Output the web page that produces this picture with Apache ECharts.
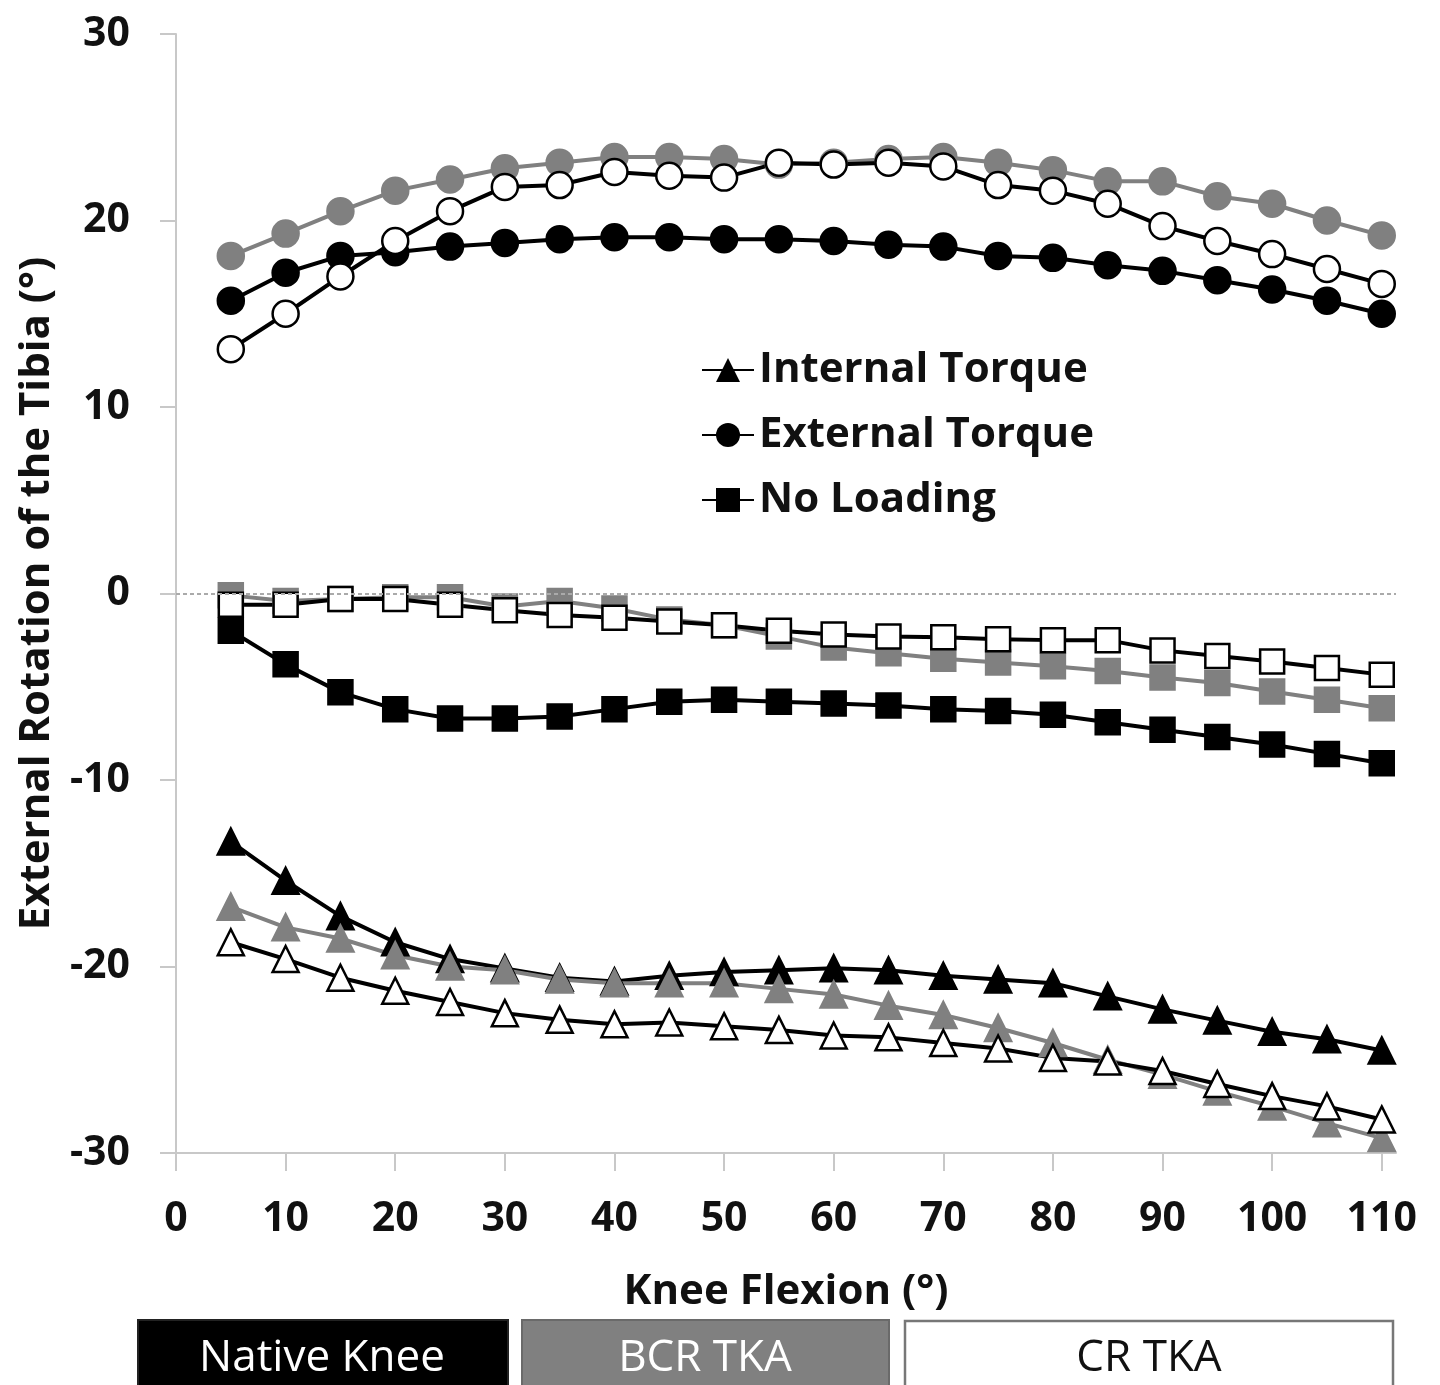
<!DOCTYPE html>
<html><head><meta charset="utf-8">
<script src="https://cdn.jsdelivr.net/npm/echarts@6/dist/echarts.min.js"></script>
<style>html,body{margin:0;padding:0;background:#fff}#c{width:1440px;height:1385px}</style>
</head><body><div id="c"></div>
<script>
const flexion = [5,10,15,20,25,30,35,40,45,50,55,60,65,70,75,80,85,90,95,100,105,110];
const xTickLabels = [0,10,20,30,40,50,60,70,80,90,100,110];
const yTickLabels = [-30,-20,-10,0,10,20,30];

const externalNative = [15.7,17.2,18.1,18.3,18.6,18.8,19.0,19.1,19.1,19.0,19.0,18.9,18.7,18.6,18.1,18.0,17.6,17.3,16.8,16.3,15.7,15.0];
const externalBCR    = [18.1,19.3,20.5,21.6,22.2,22.8,23.1,23.4,23.4,23.3,23.0,23.1,23.3,23.4,23.1,22.7,22.1,22.1,21.3,20.9,20.0,19.2];
const externalCR     = [13.1,15.0,17.0,18.9,20.5,21.8,21.9,22.6,22.4,22.3,23.1,23.0,23.1,22.9,21.9,21.6,20.9,19.7,18.9,18.2,17.4,16.6];

const noLoadNative = [-2.0,-3.8,-5.3,-6.2,-6.7,-6.7,-6.6,-6.2,-5.8,-5.7,-5.8,-5.9,-6.0,-6.2,-6.3,-6.5,-6.9,-7.3,-7.7,-8.1,-8.6,-9.1];
const noLoadBCR    = [-0.1,-0.4,-0.3,-0.2,-0.2,-0.7,-0.4,-0.8,-1.4,-1.7,-2.3,-2.9,-3.2,-3.5,-3.7,-3.9,-4.15,-4.5,-4.8,-5.25,-5.7,-6.15];
const noLoadCR     = [-0.6,-0.6,-0.3,-0.3,-0.6,-0.9,-1.15,-1.3,-1.5,-1.7,-2.0,-2.2,-2.3,-2.35,-2.45,-2.5,-2.5,-3.05,-3.35,-3.65,-4.0,-4.35];

const internalNative = [-13.3,-15.4,-17.3,-18.7,-19.6,-20.1,-20.6,-20.8,-20.5,-20.3,-20.2,-20.1,-20.2,-20.5,-20.7,-20.9,-21.6,-22.3,-22.9,-23.5,-23.9,-24.5];
const internalBCR    = [-16.8,-17.9,-18.5,-19.4,-20.0,-20.2,-20.7,-20.9,-20.9,-20.9,-21.2,-21.5,-22.1,-22.6,-23.3,-24.1,-25.0,-25.8,-26.7,-27.5,-28.4,-29.2];
const internalCR     = [-18.7,-19.6,-20.6,-21.3,-21.9,-22.5,-22.85,-23.1,-23.0,-23.2,-23.4,-23.7,-23.8,-24.1,-24.4,-24.9,-25.1,-25.6,-26.3,-26.95,-27.5,-28.2];

const legendNames = ['Internal Torque','External Torque','No Loading'];
const groupNames = ['Native Knee','BCR TKA','CR TKA'];

const FONT = '"Open Sans"';
const BLACK = '#000000', GREY = '#808080', WHITE = '#ffffff';

function pairs(vals){ return flexion.map((x,i)=>[x, vals[i]]); }

const styles = {
  native: {fill: BLACK, line: BLACK, border: BLACK},
  bcr:    {fill: GREY,  line: GREY,  border: GREY},
  cr:     {fill: WHITE, line: BLACK, border: BLACK}
};
function mk(name, vals, sym, st, size){
  return {
    name: name, type: 'line', data: pairs(vals), symbol: sym, symbolSize: size,
    lineStyle: {color: st.line, width: 4},
    itemStyle: {color: st.fill, borderColor: st.border, borderWidth: 2.5},
    showAllSymbol: true, animation: false, silent: true
  };
}
const groups = [
  ['native', externalNative, noLoadNative, internalNative],
  ['bcr', externalBCR, noLoadBCR, internalBCR],
  ['cr', externalCR, noLoadCR, internalCR]
];
const series = [];
groups.forEach(g=>{
  const st = styles[g[0]];
  series.push(mk(g[0]+'-ext', g[1], 'circle', st, 26));
  series.push(mk(g[0]+'-nol', g[2], 'rect', st, 24));
  series.push(mk(g[0]+'-int', g[3], 'triangle', st, 26));
});
series[0].markLine = {
  silent: true, symbol: 'none', label: {show: false}, animation: false,
  lineStyle: {color: '#aaaaaa', type: [4,3], width: 2},
  data: [{yAxis: 0}]
};
const legendSyms = ['triangle','circle','rect'];
legendNames.forEach((n,i)=>{
  series.push({name: n, type: 'line', data: [], symbol: legendSyms[i], symbolSize: 24,
    lineStyle: {color: BLACK, width: 3}, itemStyle: {color: BLACK}});
});

const chart = echarts.init(document.getElementById('c'), null, {renderer: 'canvas'});
chart.setOption({
  backgroundColor: '#ffffff',
  animation: false,
  grid: {left: 176, right: 44, top: 34, bottom: 232, containLabel: false},
  legend: {
    data: legendNames, orient: 'vertical', left: 696, top: 343,
    itemWidth: 52, itemHeight: 30, itemGap: 21, selectedMode: false,
    textStyle: {fontFamily: FONT, fontWeight: 'bold', fontSize: 42, color: '#111', lineHeight: 44}
  },
  xAxis: {
    type: 'value', min: 0, max: 111.3, interval: 10,
    name: 'Knee Flexion (°)', nameLocation: 'middle', nameGap: 118,
    nameTextStyle: {fontFamily: FONT, fontWeight: 'bold', fontSize: 42, color: '#111'},
    axisLine: {show: true, onZero: false, lineStyle: {color: '#c8c8c8', width: 2}},
    axisTick: {show: true, length: 18, customValues: xTickLabels, lineStyle: {color: '#c8c8c8', width: 2}},
    axisLabel: {customValues: xTickLabels, margin: 46, fontFamily: FONT, fontWeight: 'bold', fontSize: 41, color: '#111'},
    splitLine: {show: false}
  },
  yAxis: {
    type: 'value', min: -30, max: 30, interval: 10,
    name: 'External Rotation of the Tibia (°)', nameLocation: 'middle', nameGap: 118, nameRotate: 90,
    nameTextStyle: {fontFamily: FONT, fontWeight: 'bold', fontSize: 42, color: '#111'},
    axisLine: {show: true, lineStyle: {color: '#c8c8c8', width: 2}},
    axisTick: {show: true, length: 16, customValues: yTickLabels, lineStyle: {color: '#c8c8c8', width: 2}},
    axisLabel: {customValues: yTickLabels, margin: 46, fontFamily: FONT, fontWeight: 'bold', fontSize: 41, color: '#111'},
    splitLine: {show: false}
  },
  series: series,
  graphic: [
    {type: 'rect', shape: {x: 138, y: 1320, width: 370, height: 70}, style: {fill: BLACK, stroke: '#222', lineWidth: 2}},
    {type: 'text', x: 322, y: 1358, style: {text: groupNames[0], fill: WHITE, font: '44px ' + FONT, textAlign: 'center', textVerticalAlign: 'middle'}},
    {type: 'rect', shape: {x: 522, y: 1320, width: 367, height: 70}, style: {fill: GREY, stroke: '#6a6a6a', lineWidth: 2}},
    {type: 'text', x: 705, y: 1358, style: {text: groupNames[1], fill: WHITE, font: '44px ' + FONT, textAlign: 'center', textVerticalAlign: 'middle'}},
    {type: 'rect', shape: {x: 905, y: 1321, width: 488, height: 70}, style: {fill: WHITE, stroke: '#777', lineWidth: 2.5}},
    {type: 'text', x: 1149, y: 1358, style: {text: groupNames[2], fill: '#111', font: '44px ' + FONT, textAlign: 'center', textVerticalAlign: 'middle'}}
  ]
});
</script></body></html>
